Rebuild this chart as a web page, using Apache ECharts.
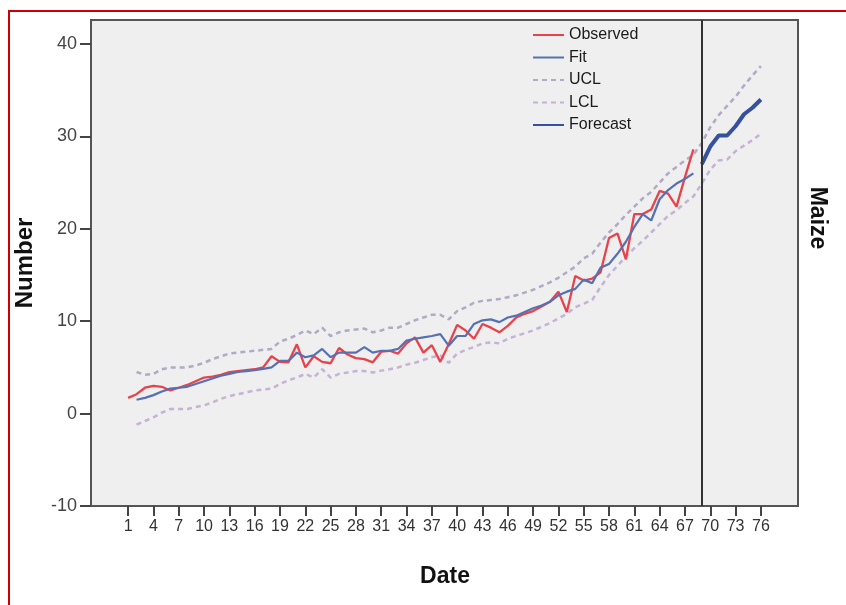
<!DOCTYPE html>
<html>
<head>
<meta charset="utf-8">
<script src="https://cdn.jsdelivr.net/npm/echarts@6/dist/echarts.min.js"></script>
<style>
html, body { margin: 0; padding: 0; background: #fff; }
#chart { width: 846px; height: 605px; }
</style>
</head>
<body>
<div id="chart"></div>
<script>
// observed starts at date 1, fit and limits at date 2, forecast at date 69
const observed = [1.7, 2.1, 2.8, 3.0, 2.9, 2.5, 2.8, 3.1, 3.5, 3.9, 4.0, 4.2, 4.5, 4.6, 4.7, 4.8, 5.0, 6.2, 5.6, 5.55,
	7.5, 5.0, 6.2, 5.6, 5.45, 7.1, 6.4, 6.0, 5.9, 5.55, 6.7, 6.8, 6.5, 7.6, 8.25, 6.6, 7.4, 5.6, 7.5, 9.6,
	9.0, 8.1, 9.7, 9.3, 8.8, 9.5, 10.4, 10.8, 11.1, 11.6, 12.1, 13.2, 11.0, 14.9, 14.4, 14.6, 15.3, 19.0, 19.5, 16.7,
	21.6, 21.6, 22.1, 24.1, 23.8, 22.4, 25.6, 28.6];
const fit = [1.5, 1.7, 2.0, 2.4, 2.7, 2.8, 2.9, 3.2, 3.5, 3.8, 4.1, 4.3, 4.5, 4.6, 4.7, 4.85, 5.0, 5.7, 5.7,
	6.6, 6.1, 6.3, 7.0, 6.1, 6.6, 6.6, 6.6, 7.2, 6.6, 6.8, 6.8, 7.0, 7.9, 8.1, 8.25, 8.4, 8.6, 7.35, 8.4,
	8.4, 9.7, 10.1, 10.2, 9.9, 10.4, 10.6, 11.0, 11.4, 11.7, 12.1, 12.8, 13.2, 13.5, 14.5, 14.1, 15.8, 16.2, 17.3, 18.6,
	20.2, 21.6, 20.9, 23.2, 24.2, 24.9, 25.4, 26.0];
const ucl = [4.5, 4.2, 4.3, 4.8, 5.0, 5.0, 5.0, 5.2, 5.5, 5.9, 6.2, 6.5, 6.6, 6.7, 6.8, 6.9, 7.0, 7.8, 8.1,
	8.5, 9.0, 8.6, 9.3, 8.4, 8.8, 9.0, 9.1, 9.2, 8.8, 9.0, 9.3, 9.3, 9.7, 10.1, 10.4, 10.7, 10.7, 10.2, 11.1,
	11.5, 12.0, 12.2, 12.3, 12.4, 12.6, 12.8, 13.1, 13.4, 13.8, 14.2, 14.7, 15.3, 15.9, 16.8, 17.3, 18.5, 19.6, 20.5, 21.5,
	22.4, 23.3, 24.0, 25.0, 26.0, 26.7, 27.4, 28.0, 29.3, 31.0, 32.3, 33.3, 34.3, 35.5, 36.6, 37.6];
const lcl = [-1.2, -0.8, -0.4, 0.1, 0.5, 0.5, 0.5, 0.7, 0.9, 1.2, 1.6, 1.9, 2.1, 2.3, 2.5, 2.6, 2.7, 3.2, 3.6,
	3.9, 4.3, 3.9, 4.8, 3.9, 4.3, 4.45, 4.6, 4.6, 4.45, 4.65, 4.8, 5.0, 5.3, 5.5, 5.8, 6.1, 6.3, 5.5, 6.5,
	6.9, 7.2, 7.6, 7.7, 7.6, 8.1, 8.4, 8.7, 9.0, 9.4, 9.8, 10.3, 10.8, 11.5, 11.9, 12.3, 13.7, 15.0, 16.0, 17.0,
	17.9, 18.7, 19.6, 20.5, 21.4, 22.0, 22.8, 23.5, 24.9, 26.4, 27.4, 27.5, 28.4, 29.0, 29.6, 30.3];
const forecast = [27.0, 28.9, 30.1, 30.1, 31.1, 32.4, 33.1, 34.0];

const dateTicks = [];
for (let d = 1; d <= 76; d += 3) dateTicks.push(d);
const numberTicks = [-10, 0, 10, 20, 30, 40];
const forecastStart = 69;

function pairs(values, start) {
	return values.map((v, i) => [start + i, v]);
}

const chart = echarts.init(document.getElementById('chart'));
const dash = [5, 4];
chart.setOption({
	animation: false,
	grid: {
		left: 91, right: 48, top: 20, bottom: 99,
		show: true,
		backgroundColor: '#efefef',
		borderColor: '#555',
		borderWidth: 2,
	},
	legend: {
		orient: 'vertical',
		left: 527,
		top: 22,
		itemWidth: 31,
		itemHeight: 14,
		itemGap: 6.5,
		itemStyle: { opacity: 0 },
		textStyle: { fontFamily: 'Liberation Sans', fontSize: 16, color: '#1a1a1a' },
		data: ['Observed', 'Fit', 'UCL', 'LCL', 'Forecast'],
	},
	xAxis: {
		type: 'value',
		min: -3.4,
		max: 80.4,
		splitLine: { show: false },
		axisLine: { show: true, onZero: false, lineStyle: { color: '#555', width: 2 } },
		axisTick: { show: true, customValues: dateTicks, length: 10, lineStyle: { color: '#444', width: 2 } },
		axisLabel: {
			customValues: dateTicks,
			margin: 13,
			fontFamily: 'Liberation Sans Narrow, Liberation Sans, sans-serif',
			fontSize: 16,
			color: '#333',
		},
	},
	yAxis: {
		type: 'value',
		min: -10,
		max: 42.6,
		splitLine: { show: false },
		axisLine: { show: true, onZero: false, lineStyle: { color: '#555', width: 2 } },
		axisTick: { show: true, customValues: numberTicks, length: 11, lineStyle: { color: '#444', width: 2 } },
		axisLabel: {
			customValues: numberTicks,
			margin: 14,
			fontFamily: 'Liberation Sans',
			fontSize: 18,
			color: '#444',
		},
	},
	series: [
		{
			name: 'Observed', type: 'line', symbol: 'none',
			data: pairs(observed, 1),
			itemStyle: { color: '#e8424b' },
			lineStyle: { color: '#e8424b', width: 2.3 },
		},
		{
			name: 'Fit', type: 'line', symbol: 'none',
			data: pairs(fit, 2),
			itemStyle: { color: '#5671b3' },
			lineStyle: { color: '#5671b3', width: 2.2 },
		},
		{
			name: 'UCL', type: 'line', symbol: 'none', z: 1,
			data: pairs(ucl, 2),
			itemStyle: { color: '#b2a9c4' },
			lineStyle: { color: '#b2a9c4', width: 2.5, type: dash },
		},
		{
			name: 'LCL', type: 'line', symbol: 'none', z: 1,
			data: pairs(lcl, 2),
			itemStyle: { color: '#c4b3d6' },
			lineStyle: { color: '#c4b3d6', width: 2.5, type: dash },
		},
		{
			name: 'Forecast', type: 'line', symbol: 'none',
			data: pairs(forecast, forecastStart),
			itemStyle: { color: '#34509f' },
			lineStyle: { color: '#34509f', width: 4 },
			markLine: {
				silent: true,
				symbol: 'none',
				label: { show: false },
				lineStyle: { color: '#333', type: 'solid', width: 2 },
				data: [{ xAxis: forecastStart }],
			},
		},
	],
	graphic: [
		{ type: 'line', shape: { x1: 8, y1: 11, x2: 846, y2: 11 }, style: { stroke: '#cc0000', lineWidth: 2 } },
		{ type: 'line', shape: { x1: 9, y1: 10, x2: 9, y2: 605 }, style: { stroke: '#cc0000', lineWidth: 2 } },
		{
			type: 'text', x: 25, y: 263, rotation: Math.PI / 2,
			style: { text: 'Number', font: 'bold 24px Liberation Sans', fill: '#111', align: 'center', verticalAlign: 'middle' },
		},
		{
			type: 'text', x: 445, y: 577,
			style: { text: 'Date', font: 'bold 23px Liberation Sans', fill: '#111', align: 'center', verticalAlign: 'middle' },
		},
		{
			type: 'text', x: 817, y: 218, rotation: -Math.PI / 2,
			style: { text: 'Maize', font: 'bold 23px Liberation Sans', fill: '#111', align: 'center', verticalAlign: 'middle' },
		},
	],
});
</script>
</body>
</html>
